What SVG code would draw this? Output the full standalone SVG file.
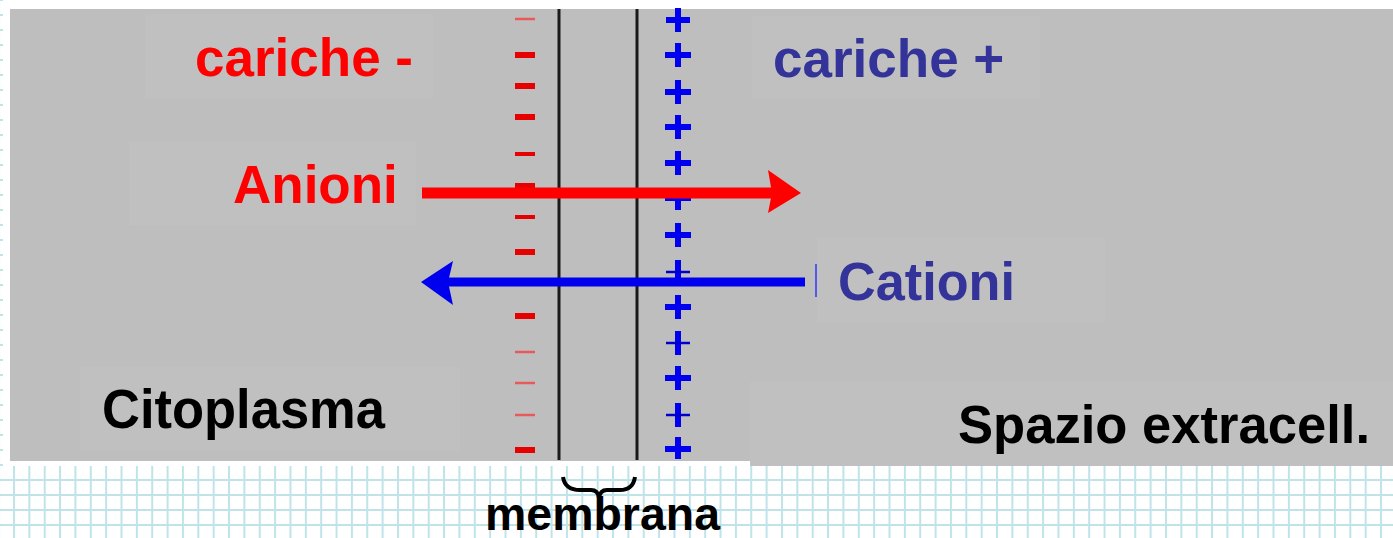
<svg xmlns="http://www.w3.org/2000/svg" width="1393" height="538" viewBox="0 0 1393 538">
<style>
.lbl{font-family:"Liberation Sans",Arial,sans-serif;font-weight:bold}
.red{fill:#ff0000}
.blu{fill:#333399}
.blk{fill:#000}
.box{fill:#c0c0c0}
.mthick{stroke:#e60000;stroke-width:6;stroke-linecap:butt}
.mthin{stroke:#e85a5a;stroke-width:2.5}
.pv{stroke:#0000ee;stroke-width:6}
.phthin{stroke:#0000cc;stroke-width:2.5}
.mem{stroke:#1a1a1a;stroke-width:3}
</style>
<defs>
<pattern id="grid" x="13" y="-1" width="15.36" height="15" patternUnits="userSpaceOnUse">
<rect x="0" y="0" width="2" height="15" fill="#bfe3e8"/>
<rect x="0" y="0" width="15.36" height="2" fill="#bfe3e8"/>
</pattern>
</defs>
<g id="background">
<rect x="0" y="0" width="1393" height="538" fill="#ffffff"/>
<rect x="0" y="0" width="1393" height="538" fill="url(#grid)"/>
<rect x="3" y="0" width="1390" height="466" fill="#ffffff"/>
</g>
<g id="panel">
<rect x="10" y="9" width="1383" height="452" fill="#bebebe"/>
<rect x="750" y="382" width="643" height="84" class="box"/>
<rect x="145" y="14" width="288" height="84" class="box"/>
<rect x="129" y="142" width="287" height="83" class="box"/>
<rect x="752" y="16" width="288" height="82" class="box"/>
<rect x="817" y="238" width="288" height="84" class="box"/>
<rect x="80" y="367" width="380" height="83" class="box"/>
</g>
<g id="membrane">
<line x1="559" y1="9" x2="559" y2="460" class="mem"/>
<line x1="637" y1="9" x2="637" y2="460" class="mem"/>
</g>
<g id="negative-charges">
<line x1="515" y1="19" x2="535" y2="19" class="mthin"/>
<line x1="515" y1="55" x2="535" y2="55" class="mthick"/>
<line x1="515" y1="86" x2="535" y2="86" class="mthick"/>
<line x1="515" y1="117" x2="535" y2="117" class="mthick"/>
<line x1="515" y1="154" x2="535" y2="154" class="mthick" style="stroke-width:4"/>
<line x1="515" y1="186" x2="535" y2="186" class="mthick"/>
<line x1="515" y1="217" x2="535" y2="217" class="mthick" style="stroke-width:4"/>
<line x1="515" y1="252" x2="535" y2="252" class="mthick"/>
<line x1="515" y1="316" x2="535" y2="316" class="mthick"/>
<line x1="515" y1="352" x2="535" y2="352" class="mthin"/>
<line x1="515" y1="383" x2="535" y2="383" class="mthin"/>
<line x1="515" y1="415" x2="535" y2="415" class="mthin"/>
<line x1="515" y1="450" x2="535" y2="450" class="mthick"/>
</g>
<g id="positive-charges">
<path d="M678,8v24M666,20h24" class="pv"/>
<path d="M678,43v24M665,55h26" class="pv"/>
<path d="M678,80v24M665,92h26" class="pv"/>
<path d="M678,115v24M665,127h26" class="pv"/>
<path d="M678,151v24M665,163h26" class="pv"/>
<path d="M678,190v20M665,198h26" class="pv"/>
<path d="M678,223v24M665,235h26" class="pv"/>
<path d="M678,260v24" class="pv"/><path d="M666,272h24" class="phthin"/>
<path d="M678,295v24M665,307h26" class="pv"/>
<path d="M678,331v24" class="pv"/><path d="M666,343h24" class="phthin"/>
<path d="M678,366v24M665,378h26" class="pv"/>
<path d="M678,403v24" class="pv"/><path d="M666,415h24" class="phthin"/>
<path d="M678,437v22M665,449h26" class="pv"/>
</g>
<g id="connectors">
<g id="arrow-anioni">
<line x1="422" y1="193" x2="774" y2="193" stroke="#ff0000" stroke-width="11"/>
<polygon points="768,170 801,193 768,213 772,193" fill="#ff0000"/>
</g>
<g id="arrow-cationi">
<line x1="805" y1="282" x2="446" y2="282" stroke="#0000ee" stroke-width="9"/>
<polygon points="453,261 421,282 453,305 448,282" fill="#0000ee"/>
<line x1="816" y1="264" x2="816" y2="297" stroke="#3333ff" stroke-width="1.5"/>
</g>
</g>
<g id="label-cariche-neg"><text x="195" y="76" class="lbl red" font-size="53">cariche -</text></g>
<g id="label-anioni"><text x="233" y="203" class="lbl red" font-size="53">Anioni</text></g>
<g id="label-cariche-pos"><text x="773" y="77" class="lbl blu" font-size="53">cariche +</text></g>
<g id="label-cationi"><text x="838" y="300" class="lbl blu" font-size="54" textLength="177" lengthAdjust="spacingAndGlyphs">Cationi</text></g>
<g id="label-citoplasma"><text x="102" y="428" class="lbl blk" font-size="55" textLength="283" lengthAdjust="spacingAndGlyphs">Citoplasma</text></g>
<g id="label-spazio"><text x="958" y="443" class="lbl blk" font-size="53" textLength="412" lengthAdjust="spacingAndGlyphs">Spazio extracell.</text></g>
<g id="label-membrana">
<path d="M563,477 Q565,490 580,490 L591,490 Q598,490 599,498 Q600,490 607,490 L620,490 Q633,490 635,477" fill="none" stroke="#000" stroke-width="4"/>
<text x="485" y="530" class="lbl blk" font-size="46" textLength="235" lengthAdjust="spacingAndGlyphs">membrana</text>
</g>
</svg>
